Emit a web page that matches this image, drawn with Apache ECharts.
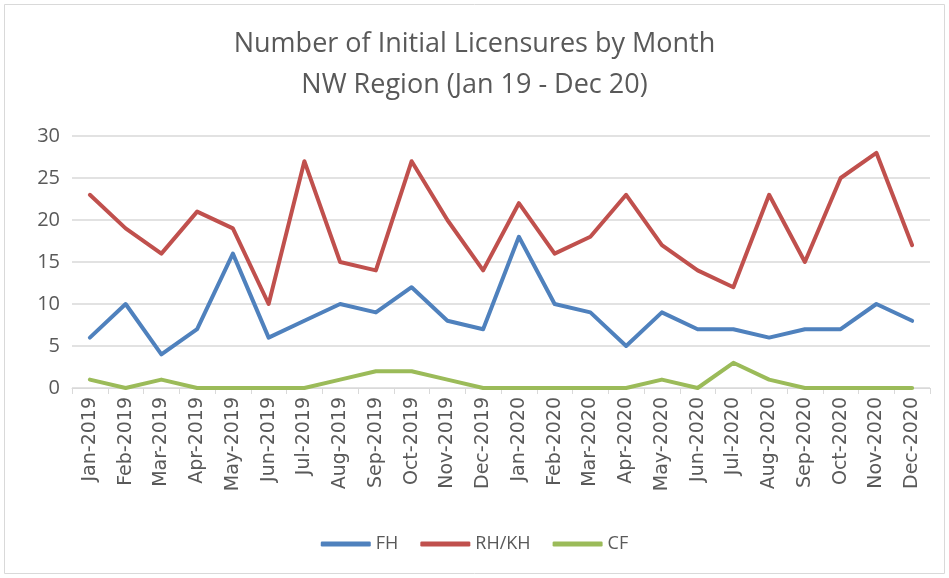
<!DOCTYPE html>
<html>
<head>
<meta charset="utf-8">
<script src="https://cdn.jsdelivr.net/npm/echarts@6/dist/echarts.min.js"></script>
<style>
  html, body { margin: 0; padding: 0; background: #fff; }
  #chart { width: 949px; height: 578px; }
</style>
</head>
<body>
<div id="chart"></div>
<script>
const months = ['Jan-2019', 'Feb-2019', 'Mar-2019', 'Apr-2019', 'May-2019', 'Jun-2019',
  'Jul-2019', 'Aug-2019', 'Sep-2019', 'Oct-2019', 'Nov-2019', 'Dec-2019',
  'Jan-2020', 'Feb-2020', 'Mar-2020', 'Apr-2020', 'May-2020', 'Jun-2020',
  'Jul-2020', 'Aug-2020', 'Sep-2020', 'Oct-2020', 'Nov-2020', 'Dec-2020'];
const fh = [6, 10, 4, 7, 16, 6, 8, 10, 9, 12, 8, 7, 18, 10, 9, 5, 9, 7, 7, 6, 7, 7, 10, 8];
const rhkh = [23, 19, 16, 21, 19, 10, 27, 15, 14, 27, 20, 14, 22, 16, 18, 23, 17, 14, 12, 23, 15, 25, 28, 17];
const cf = [1, 0, 1, 0, 0, 0, 0, 1, 2, 2, 1, 0, 0, 0, 0, 0, 1, 0, 3, 1, 0, 0, 0, 0];

const chart = echarts.init(document.getElementById('chart'));

const lineSeries = (name, data, color) => ({
  name: name,
  type: 'line',
  data: data,
  symbol: 'none',
  color: color,
  lineStyle: { width: 4, color: color, cap: 'round', join: 'round' }
});

chart.setOption({
  animation: false,
  textStyle: { fontFamily: 'Open Sans' },
  graphic: [{
    type: 'rect',
    shape: { x: 4.5, y: 4.5, width: 940, height: 569 },
    style: { fill: 'none', stroke: '#d9d9d9', lineWidth: 1 },
    silent: true
  }],
  title: {
    text: 'Number of Initial Licensures by Month\nNW Region (Jan 19 - Dec 20)',
    left: 'center',
    top: 19,
    textStyle: {
      fontFamily: 'Open Sans',
      fontWeight: 'normal',
      fontSize: 27,
      lineHeight: 41,
      color: '#595959'
    }
  },
  legend: {
    bottom: 20,
    left: 'center',
    itemWidth: 50,
    itemHeight: 5,
    itemGap: 22,
    icon: 'roundRect',
    textStyle: { fontSize: 18, color: '#595959', fontFamily: 'Open Sans' },
    data: ['FH', 'RH/KH', 'CF']
  },
  grid: {
    left: 72,
    right: 19,
    top: 136,
    bottom: 190,
    containLabel: false
  },
  xAxis: {
    type: 'category',
    data: months,
    boundaryGap: true,
    axisLine: { lineStyle: { color: '#d9d9d9', width: 1 } },
    axisTick: { show: true, length: 6, alignWithLabel: false, lineStyle: { color: '#d9d9d9' } },
    axisLabel: {
      interval: 0,
      rotate: 90,
      fontSize: 19,
      fontFamily: 'DejaVu Sans',
      color: '#595959',
      margin: 9
    }
  },
  yAxis: {
    type: 'value',
    min: 0,
    max: 30,
    interval: 5,
    axisLine: { show: false },
    axisTick: { show: false },
    axisLabel: { fontSize: 20, color: '#595959', margin: 12, fontFamily: 'Open Sans' },
    splitLine: { lineStyle: { color: '#d9d9d9', width: 1.5 } }
  },
  series: [
    lineSeries('FH', fh, '#4f81bd'),
    lineSeries('RH/KH', rhkh, '#c0504d'),
    lineSeries('CF', cf, '#9bbb59')
  ]
});

window.addEventListener('resize', () => chart.resize());
</script>
</body>
</html>
